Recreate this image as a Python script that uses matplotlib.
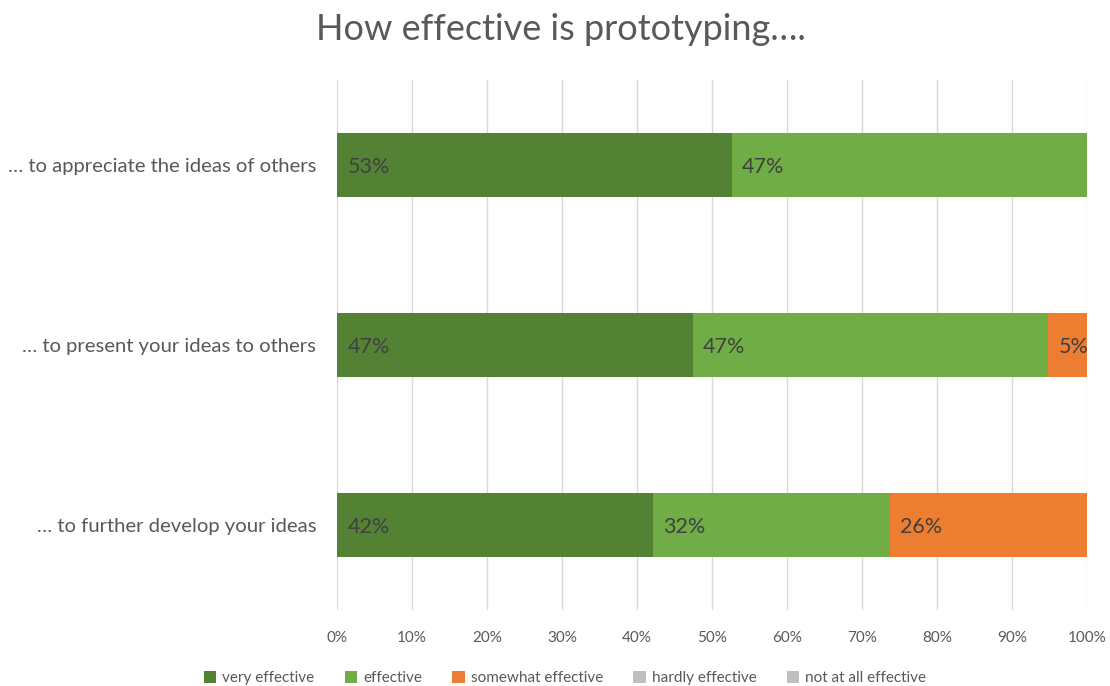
import matplotlib
matplotlib.use("Agg")
import matplotlib.pyplot as plt
from matplotlib.patches import Patch
import numpy as np

plt.rcParams['font.family'] = ['Lato', 'DejaVu Sans']

categories = ["… to further develop your ideas",
              "… to present your ideas to others",
              "… to appreciate the ideas of others"]
series_names = ["very effective", "effective", "somewhat effective",
                "hardly effective", "not at all effective"]
very_effective = [42.1, 47.4, 52.6]
effective = [31.6, 47.4, 47.4]
somewhat_effective = [26.3, 5.3, 0.0]
hardly_effective = [0.0, 0.0, 0.0]
not_at_all_effective = [0.0, 0.0, 0.0]
tick_values = [0, 10, 20, 30, 40, 50, 60, 70, 80, 90, 100]
tick_labels = [f"{v}%" for v in tick_values]
title = "How effective is prototyping…."

colors = ["#548235", "#70AD47", "#ED7D31", "#BFBFBF", "#BFBFBF"]
data = [very_effective, effective, somewhat_effective, hardly_effective, not_at_all_effective]

fig = plt.figure(figsize=(11.1, 6.86), dpi=100)
ax = fig.add_axes([337/1110, 1-610/686, 750/1110, 530/686])

y = np.arange(len(categories))
left = np.zeros(len(categories))
for vals, col in zip(data, colors):
    vals = np.array(vals)
    ax.barh(y, vals, left=left, height=0.355, color=col, zorder=3)
    for yi, (l, v) in enumerate(zip(left, vals)):
        if v > 0:
            ax.text(l + 1.4, yi, f"{v:.0f}%", va='center_baseline', ha='left',
                    fontsize=15.5, color='#404040', zorder=4)
    left = left + vals

ax.set_xlim(0, 100)
ax.set_ylim(-0.472, 2.472)
ax.set_xticks(tick_values)
ax.set_xticklabels(tick_labels, fontsize=11, color='#595959')
ax.set_yticks(y)
ax.set_yticklabels(categories, fontsize=14.6, color='#595959')
ax.tick_params(axis='both', length=0)
ax.tick_params(axis='y', pad=15)
ax.tick_params(axis='x', pad=15)
for lbl in ax.get_yticklabels():
    lbl.set_va('center_baseline')
ax.grid(axis='x', color='#D9D9D9', linewidth=1, zorder=0)
for s in ax.spines.values():
    s.set_visible(False)

fig.text(0.505, 1-29/686, title, ha='center', va='center', fontsize=26, color='#595959')

handles = [Patch(facecolor=c, edgecolor='none') for c in colors]
fig.legend(handles, series_names, loc='center', bbox_to_anchor=(0.509, 1-678/686),
           ncol=5, frameon=False, fontsize=11, labelcolor='#595959',
           handlelength=0.8, handleheight=0.8, handletextpad=0.4, columnspacing=2.0)

fig.savefig("out.png", dpi=100)
